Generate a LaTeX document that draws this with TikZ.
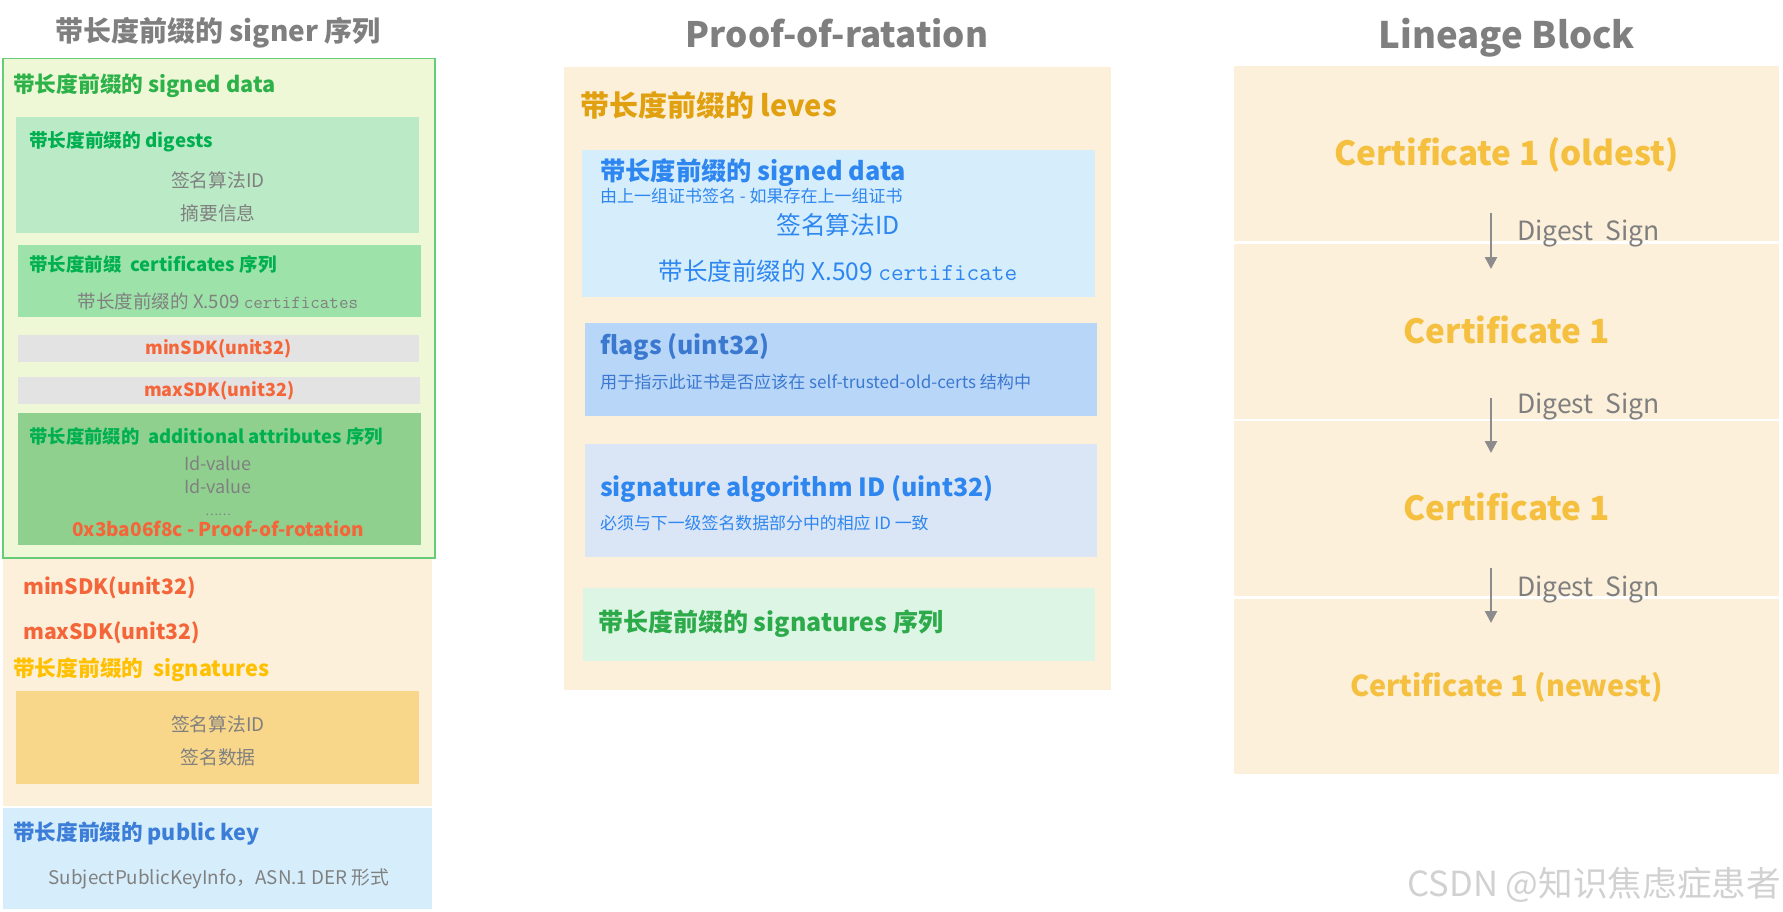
\documentclass[tikz,border=0pt]{standalone}
\usepackage{fontspec}
\setmainfont{Noto Sans CJK SC}
\usetikzlibrary{positioning,arrows.meta,calc}

\definecolor{titlegray}{HTML}{7F7F7F}
\definecolor{txtgray}{HTML}{808080}
\definecolor{sdline}{HTML}{66CC77}
\definecolor{sdfill}{HTML}{EEF7D6}
\definecolor{sdgreen}{HTML}{2DB24A}
\definecolor{brightgreen}{HTML}{00B050}
\definecolor{digfill}{HTML}{BBEBC6}
\definecolor{certfill}{HTML}{9DE2A8}
\definecolor{sdkfill}{HTML}{E3E3E3}
\definecolor{attrfill}{HTML}{8FD08F}
\definecolor{sdkred}{HTML}{F4663A}
\definecolor{beige}{HTML}{FDF0DA}
\definecolor{gold}{HTML}{FFC000}
\definecolor{sigfill}{HTML}{F9D78A}
\definecolor{keyfill}{HTML}{D6EEFC}
\definecolor{keyblue}{HTML}{3C7DD8}
\definecolor{levgold}{HTML}{E0A010}
\definecolor{sdblue}{HTML}{2E86F0}
\definecolor{flagfill}{HTML}{B8D6F8}
\definecolor{flagblue}{HTML}{3B78D0}
\definecolor{algfill}{HTML}{DAE6F5}
\definecolor{seqfill}{HTML}{DDF5E5}
\definecolor{seqgreen}{HTML}{2DAA4A}
\definecolor{certgold}{HTML}{F5C040}
\definecolor{arrowgray}{HTML}{8C8C8C}

\newcommand{\pxsize}[1]{\fontsize{#1}{#1}\selectfont}

\begin{document}
\begin{tikzpicture}[
    x=1pt, y=-1pt,
    panel/.style={rectangle, inner sep=0, anchor=north west},
    head/.style={inner sep=0, anchor=west, font=\bfseries\pxsize{21.7}},
    plain/.style={inner sep=0, font=\pxsize{18.8}, text=txtgray},
    coltitle/.style={inner sep=0, font=\bfseries\pxsize{28}, text=titlegray},
    certbox/.style={rectangle, fill=beige, minimum width=545, minimum height=175, inner sep=0, text height=24pt, text depth=0pt, font=\bfseries\pxsize{33.3}, text=certgold},
    flow/.style={-{Triangle[length=12pt,width=12pt]}, line width=2.5pt, draw=arrowgray},
    sign/.style={inner sep=0, anchor=west, font=\pxsize{26.5}, text=titlegray},
]
\useasboundingbox (0,0) rectangle (1783,912);

% ====== signer 序列 ======
\node[coltitle] (tsigner) at (218,33) {带长度前缀的 signer 序列};

\node[panel, fill=beige, minimum width=429, minimum height=249] (signer) at (3,557) {};
\node[panel, fill=sdfill, draw=sdline, line width=1.5pt, minimum width=432, minimum height=499] (sdata) at (2,58) {};
\node[head, text=sdgreen] (sdtitle) at (13,86) {带长度前缀的 signed data};

% digests
\node[panel, fill=digfill, minimum width=403, minimum height=116] (digests) at (16,117) {};
\node[head, font=\bfseries\pxsize{18.7}, text=brightgreen] (digtitle) at (29,142) {带长度前缀的 digests};
\node[plain] (digalg) at (218,180) {签名算法ID};
\node[plain] (diginfo) at (218,213) {摘要信息};

% certificates
\node[panel, fill=certfill, minimum width=403, minimum height=72] (certs) at (18,245) {};
\node[head, font=\bfseries\pxsize{18.5}, text=brightgreen] (certtitle) at (29,264) {带长度前缀\ \ certificates 序列};
\node[plain, font=\pxsize{18.5}] (certx) at (218,301) {带长度前缀的 X.509 {\ttfamily certificates}};

% SDK
\node[panel, fill=sdkfill, minimum width=401, minimum height=27, font=\bfseries\pxsize{18}, text=sdkred] (minsdk) at (18,335) {minSDK(unit32)};
\node[panel, fill=sdkfill, minimum width=402, minimum height=27, font=\bfseries\pxsize{18}, text=sdkred] (maxsdk) at (18,377) {maxSDK(unit32)};

% additional attributes
\node[panel, fill=attrfill, minimum width=403, minimum height=132] (attrs) at (18,413) {};
\node[head, font=\bfseries\pxsize{18.4}, text=brightgreen] (attrtitle) at (29,437) {带长度前缀的\ \ additional attributes 序列};
\node[plain, font=\pxsize{18}] (idv1) at (218,463) {Id-value};
\node[plain, font=\pxsize{18}] (idv2) at (218,486) {Id-value};
\node[plain, font=\pxsize{12}] (idvdots) at (218,515) {……};
\node[inner sep=0, font=\bfseries\pxsize{19}, text=sdkred] (rot) at (218,529) {0x3ba06f8c - Proof-of-rotation};

% signer rest
\node[head, font=\bfseries\pxsize{21.2}, text=sdkred] (minsdkb) at (23,588) {minSDK(unit32)};
\node[head, font=\bfseries\pxsize{21.2}, text=sdkred] (maxsdkb) at (23,633) {maxSDK(unit32)};
\node[head, text=gold] (sigtitle) at (13,670) {带长度前缀的\ \ signatures};
\node[panel, fill=sigfill, minimum width=403, minimum height=93] (sigs) at (16,691) {};
\node[plain] (sigalg) at (218,724) {签名算法ID};
\node[plain] (sigval) at (218,757) {签名数据};

% public key
\node[panel, fill=keyfill, minimum width=429, minimum height=101] (pubkey) at (3,808) {};
\node[head, font=\bfseries\pxsize{21.6}, text=keyblue] (keytitle) at (13,834) {带长度前缀的 public key};
\node[plain] (keyinfo) at (219,879) {SubjectPublicKeyInfo，ASN.1 DER 形式};

% ====== Proof-of-ratation ======
\node[coltitle, font=\bfseries\pxsize{35}] (tpor) at (837,33) {Proof-of-ratation};
\node[panel, fill=beige, minimum width=547, minimum height=623] (por) at (564,67) {};
\node[head, font=\bfseries\pxsize{29}, text=levgold] (levtitle) at (580,105) {带长度前缀的 leves};

% signed data
\node[panel, fill=keyfill, minimum width=513, minimum height=147] (psdata) at (582,150) {};
\node[head, font=\bfseries\pxsize{25.3}, text=sdblue] (psdtitle) at (600,173) {带长度前缀的 signed data};
\node[head, font=\pxsize{17}, text=sdblue] (psdnote) at (600,196) {由上一组证书签名 - 如果存在上一组证书};
\node[inner sep=0, font=\pxsize{24.8}, text=sdblue] (psdalg) at (838,225) {签名算法ID};
\node[inner sep=0, font=\pxsize{24.5}, text=sdblue] (psdcert) at (838,271) {带长度前缀的 X.509 {\ttfamily certificate}};

% flags
\node[panel, fill=flagfill, minimum width=512, minimum height=93] (flags) at (585,323) {};
\node[head, font=\bfseries\pxsize{25}, text=flagblue] (flagtitle) at (600,347) {flags (uint32)};
\node[head, font=\pxsize{17.1}, text=flagblue] (flagnote) at (600,382) {用于指示此证书是否应该在 self-trusted-old-certs 结构中};

% signature algorithm
\node[panel, fill=algfill, minimum width=512, minimum height=113] (sigalgid) at (585,444) {};
\node[head, font=\bfseries\pxsize{25}, text=sdblue] (algtitle) at (600,489) {signature algorithm ID (uint32)};
\node[head, font=\pxsize{16.9}, text=sdblue] (algnote) at (600,523) {必须与下一级签名数据部分中的相应 ID 一致};

% signatures
\node[panel, fill=seqfill, minimum width=512, minimum height=73] (sigseq) at (583,588) {};
\node[head, font=\bfseries\pxsize{25}, text=seqgreen] (seqtitle) at (598,624) {带长度前缀的 signatures 序列};

% ====== Lineage Block ======
\node[coltitle, font=\bfseries\pxsize{36.5}] (tlineage) at (1507,38) {Lineage Block};
\node[certbox] (cert1) at (1506.5,154) {Certificate 1 (oldest)};
\node[certbox, below=2pt of cert1] (cert2) {Certificate 1};
\node[certbox, below=2pt of cert2] (cert3) {Certificate 1};
\node[certbox, below=2pt of cert3, text height=20pt, font=\bfseries\pxsize{28.8}] (cert4) {Certificate 1 (newest)};

\coordinate (a1s) at (1491,213);
\coordinate (a1e) at (1491,269);
\coordinate (a2s) at (1491,398);
\coordinate (a2e) at (1491,453);
\coordinate (a3s) at (1491,568);
\coordinate (a3e) at (1491,623);
\draw[flow] (a1s) -- (a1e);
\draw[flow] (a2s) -- (a2e);
\draw[flow] (a3s) -- (a3e);
\node[sign] (dg1) at (1517,233.5) {Digest\ \ Sign};
\node[sign] (dg2) at (1517,406.5) {Digest\ \ Sign};
\node[sign] (dg3) at (1517,590) {Digest\ \ Sign};

% watermark
\node[inner sep=0, anchor=east, font=\pxsize{34.6}, text=black!18] (mark) at (1781,885) {CSDN @知识焦虑症患者};

\end{tikzpicture}
\end{document}
